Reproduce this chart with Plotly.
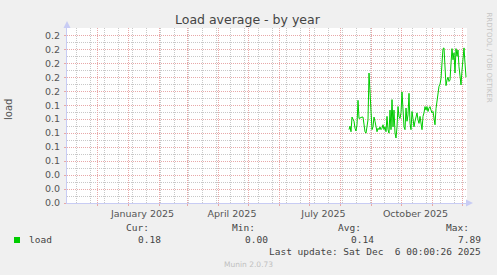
import pandas as pd
import plotly.graph_objects as go

# ---------------- data ----------------
title = "Load average - by year"
series_name = "load"
series_start = "2025-08-10"
load = [
    0.105, 0.110, 0.102, 0.123, 0.120, 0.117, 0.107, 0.103, 0.112, 0.147,
    0.121, 0.122, 0.122, 0.123, 0.123, 0.112, 0.102, 0.100, 0.109, 0.119,
    0.186, 0.152, 0.114, 0.105, 0.109, 0.123, 0.117, 0.105, 0.102, 0.107,
    0.105, 0.109, 0.105, 0.107, 0.112, 0.105, 0.109, 0.102, 0.124, 0.105,
    0.100, 0.133, 0.105, 0.148, 0.109, 0.133, 0.100, 0.093, 0.109, 0.138,
    0.124, 0.121, 0.129, 0.159, 0.124, 0.109, 0.105, 0.136, 0.117, 0.126,
    0.157, 0.114, 0.105, 0.131, 0.121, 0.109, 0.117, 0.124, 0.129, 0.119,
    0.114, 0.124, 0.112, 0.105, 0.124, 0.129, 0.138, 0.133, 0.138, 0.131,
    0.136, 0.138, 0.133, 0.129, 0.131, 0.124, 0.112, 0.135, 0.148, 0.160,
    0.167, 0.170, 0.178, 0.200, 0.221, 0.222, 0.190, 0.168, 0.176, 0.180,
    0.174, 0.176, 0.200, 0.221, 0.205, 0.215, 0.186, 0.221, 0.210, 0.219,
    0.195, 0.180, 0.169, 0.190, 0.205, 0.222, 0.200, 0.180,
]
x_range = ["2024-11-01", "2025-12-06"]
month_starts = ["2024-12-01", "2025-01-01", "2025-02-01", "2025-03-01",
                "2025-04-01", "2025-05-01", "2025-06-01", "2025-07-01",
                "2025-08-01", "2025-09-01", "2025-10-01", "2025-11-01",
                "2025-12-01"]
month_label_pos = ["2025-01-15 12:00", "2025-04-15", "2025-07-15 12:00",
                   "2025-10-15 12:00"]
month_labels = ["January 2025", "April 2025", "July 2025", "October 2025"]
minor_x_start = "2024-11-10"
minor_x_days = 14
y_ticks = [round(i * 0.02, 2) for i in range(13)]
y_tick_labels = [f"{v:.1f}" for v in y_ticks]
y_minor = [round(0.01 + i * 0.02, 2) for i in range(13)]
y_max = 0.2505
stat_headers = ["Cur:", "Min:", "Avg:", "Max:"]
stat_values = ["0.18", "0.00", "0.14", "7.89"]
last_update = "Last update: Sat Dec  6 00:00:26 2025"
footer = "Munin 2.0.73"
side_text = "RRDTOOL / TOBI OETIKER"

# ---------------- style ----------------
W, H = 497, 275
L, R, T, B = 67, 30, 28, 72
PW, PH = W - L - R, H - T - B
GREEN = "#00CC00"
MAJOR = "#E8A8A8"
MINOR = "#C8C8C8"
AXIS = "#C8CCF4"
TXT = "#555555"
MONO = "DejaVu Sans Mono"
SANS = "DejaVu Sans"
DASH = "1px,1px"


def px(x):
    return (x - L) / PW


def py(y):
    return (H - B - y) / PH


dates = pd.date_range(series_start, periods=len(load), freq="D")
minor_dates = [d.strftime("%Y-%m-%d") for d in
               pd.date_range(minor_x_start, x_range[1], freq=f"{minor_x_days}D")]

fig = go.Figure()
# base subplot (minor grid)
fig.add_trace(go.Scatter(x=[x_range[0]], y=[0], xaxis="x", yaxis="y",
                         mode="markers", marker=dict(opacity=0),
                         showlegend=False, hoverinfo="skip"))
# month labels
fig.add_trace(go.Scatter(x=[x_range[0]], y=[0], xaxis="x3", yaxis="y2",
                         mode="markers", marker=dict(opacity=0),
                         showlegend=False, hoverinfo="skip"))
# data on top (major grid subplot)
fig.add_trace(go.Scatter(x=dates, y=load, mode="lines", xaxis="x2", yaxis="y2",
                         line=dict(color=GREEN, width=1), name=series_name,
                         hoverinfo="skip", showlegend=False))

common_x = dict(type="date", range=x_range, zeroline=False, fixedrange=True)
common_y = dict(range=[0, y_max], zeroline=False, fixedrange=True)

fig.update_layout(
    width=W, height=H,
    margin=dict(l=L, r=R, t=T, b=B, pad=0),
    paper_bgcolor="#F0F0F0", plot_bgcolor="#FFFFFF",
    showlegend=False,
    xaxis=dict(**common_x, tickmode="array", tickvals=minor_dates,
               showticklabels=False,
               showgrid=True, gridcolor=MINOR, griddash=DASH, gridwidth=1,
               ticks="", showline=True, linecolor=AXIS, linewidth=1),
    yaxis=dict(**common_y, tickmode="array", tickvals=y_minor,
               showticklabels=False,
               showgrid=True, gridcolor=MINOR, griddash=DASH, gridwidth=1,
               ticks="", showline=True, linecolor=AXIS, linewidth=1),
    xaxis2=dict(**common_x, overlaying="x", anchor="y2", side="bottom",
                tickvals=month_starts, ticktext=["" for _ in month_starts],
                showgrid=True, gridcolor=MAJOR, griddash=DASH, gridwidth=1,
                ticks="outside", ticklen=2, tickcolor=MAJOR, showline=False),
    xaxis3=dict(**common_x, overlaying="x", anchor="y2", side="bottom",
                tickvals=month_label_pos, ticktext=month_labels,
                showgrid=False, showline=False, ticks="",
                tickfont=dict(family=SANS, size=9.5, color=TXT),
                ticklabelstandoff=3),
    yaxis2=dict(**common_y, overlaying="y", anchor="x2", side="left",
                tickvals=y_ticks, ticktext=y_tick_labels,
                showgrid=True, gridcolor=MAJOR, griddash=DASH, gridwidth=1,
                ticks="outside", ticklen=2, tickcolor=MAJOR,
                tickfont=dict(family=SANS, size=9.5, color=TXT),
                ticklabelstandoff=2, showline=False),
)

ann = []


def add_text(text, x, y, xanchor="center", size=9.5, color=TXT, family=SANS,
             angle=0):
    ann.append(dict(text=text, x=px(x), y=py(y), xref="paper", yref="paper",
                    xanchor=xanchor, yanchor="middle", showarrow=False,
                    textangle=angle, font=dict(family=family, size=size,
                                               color=color)))


add_text(title, 247.5, 19.5, size=12.5, color="#444444")
add_text(series_name, 9, 110, angle=-90, size=10)
add_text(side_text, 488.5, 57, size=7, color="#C4C4C4", angle=90)

hdr_right = [150.5, 257, 363, 470.5]
val_right = [163, 269.5, 376, 482.5]
for h, v, hx, vx in zip(stat_headers, stat_values, hdr_right, val_right):
    add_text(h, hx, 227.7, xanchor="right", family=MONO, color="#444444")
    add_text(v, vx, 239.7, xanchor="right", family=MONO, color="#444444")
add_text(series_name, 26.5, 239.7, xanchor="left", family=MONO, color="#444444")
add_text(last_update, 482.5, 251.7, xanchor="right", family=MONO,
         color="#444444")
add_text(footer, 248, 264, size=7.5, color="#C0C0C0")
fig.update_layout(annotations=ann)

shapes = [
    # legend colour box
    dict(type="rect", xref="paper", yref="paper", x0=px(14), x1=px(20),
         y0=py(243), y1=py(237), fillcolor=GREEN, line=dict(width=0)),
    # axis arrows
    dict(type="path", xref="paper", yref="paper",
         path=f"M {px(63.5)},{py(28)} L {px(70.5)},{py(28)} L {px(67)},{py(21)} Z",
         fillcolor=AXIS, line=dict(width=0)),
    dict(type="path", xref="paper", yref="paper",
         path=f"M {px(466)},{py(199.5)} L {px(466)},{py(206.5)} L {px(473)},{py(203)} Z",
         fillcolor=AXIS, line=dict(width=0)),
]
fig.update_layout(shapes=shapes)

fig.write_html("out.html", config={"displayModeBar": False})
